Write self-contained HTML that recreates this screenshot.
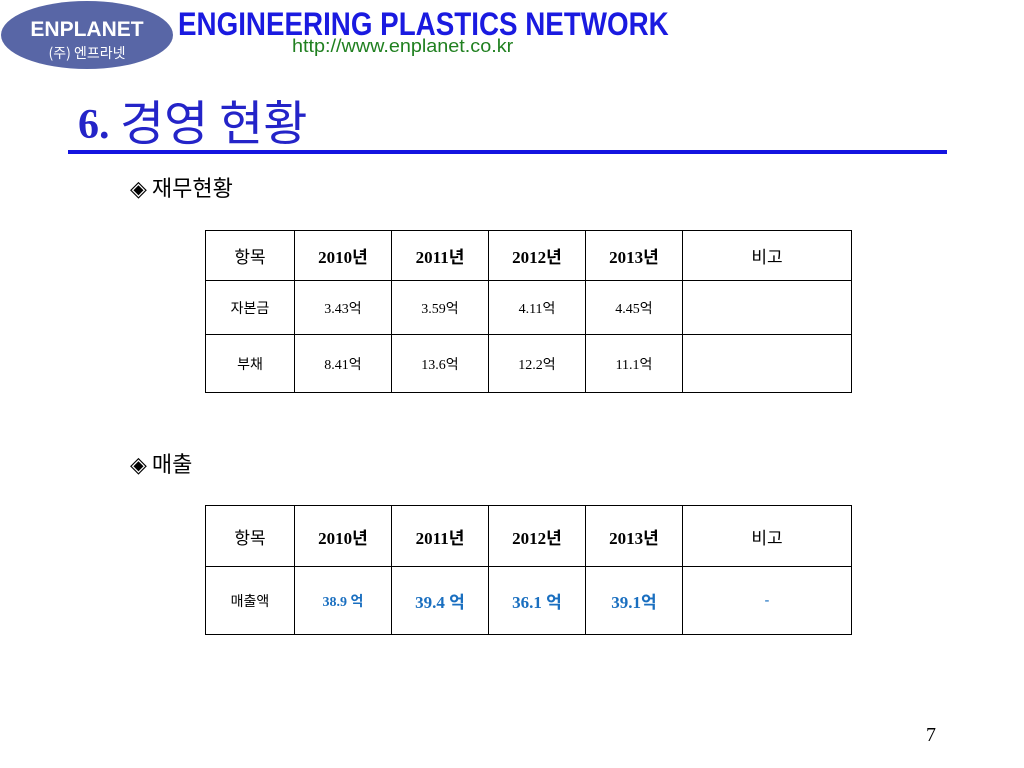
<!DOCTYPE html>
<html><head><meta charset="utf-8"><style>
body{margin:0;width:1024px;height:768px;background:#fff;position:relative;overflow:hidden;font-family:"Liberation Serif","Noto Sans CJK KR",serif}
.a{position:absolute}
table{position:absolute;border-collapse:collapse;table-layout:fixed}
td{border:1.5px solid #000;text-align:center;padding:0;font-size:14px}
.h td{font-size:17px;font-weight:bold}
.k{font-family:"Liberation Sans","Noto Sans CJK KR",sans-serif;font-weight:normal!important}
.bl{color:#1a6fc0;font-weight:bold;font-size:17px}
</style></head><body>
<svg class="a" style="left:0;top:0" width="180" height="72">
<ellipse cx="87" cy="35" rx="86" ry="34" fill="#5866a6"/>
<text x="87" y="36" font-family="Liberation Sans,sans-serif" font-weight="bold" font-size="21" fill="#fff" text-anchor="middle">ENPLANET</text>
<text x="87" y="58" font-family="Noto Sans CJK KR,sans-serif" font-size="14" fill="#fff" text-anchor="middle">(주) 엔프라넷</text>
</svg>
<div class="a" style="left:178px;top:6px;font-family:'Liberation Sans',sans-serif;font-weight:bold;font-size:32px;color:#1a1ae0;transform:scaleX(0.868);transform-origin:left;white-space:nowrap">ENGINEERING PLASTICS NETWORK</div>
<div class="a" style="left:292px;top:36px;font-family:'Liberation Sans',sans-serif;font-size:18px;color:#208020;white-space:nowrap;transform:scaleX(1.1);transform-origin:left">http://www.enplanet.co.kr</div>
<div class="a" style="left:78px;top:97px;font-size:42px;font-weight:bold;color:#2424c8;white-space:nowrap;line-height:56px">6. <span style="font-family:'Noto Sans CJK KR',sans-serif;font-weight:normal;font-size:48px;vertical-align:top;position:relative;top:-6px">경영 현황</span></div>
<div class="a" style="left:68px;top:150px;width:879px;height:4px;background:#1414e0"></div>
<div class="a" style="left:130px;top:171px;font-size:22px;font-family:'Noto Sans CJK KR',sans-serif">◈ 재무현황</div>
<table style="left:205px;top:230px;width:646px">
<colgroup><col style="width:89px"><col style="width:97px"><col style="width:97px"><col style="width:97px"><col style="width:97px"><col style="width:169px"></colgroup>
<tr class="h" style="height:50px"><td class="k">항목</td><td>2010년</td><td>2011년</td><td>2012년</td><td>2013년</td><td class="k">비고</td></tr>
<tr style="height:54px"><td class="k">자본금</td><td>3.43억</td><td>3.59억</td><td>4.11억</td><td>4.45억</td><td></td></tr>
<tr style="height:58px"><td class="k">부채</td><td>8.41억</td><td>13.6억</td><td>12.2억</td><td>11.1억</td><td></td></tr>
</table>
<div class="a" style="left:130px;top:447px;font-size:22px;font-family:'Noto Sans CJK KR',sans-serif">◈ 매출</div>
<table style="left:205px;top:505px;width:646px">
<colgroup><col style="width:89px"><col style="width:97px"><col style="width:97px"><col style="width:97px"><col style="width:97px"><col style="width:169px"></colgroup>
<tr class="h" style="height:61px"><td class="k">항목</td><td>2010년</td><td>2011년</td><td>2012년</td><td>2013년</td><td class="k">비고</td></tr>
<tr style="height:68px"><td class="k">매출액</td><td class="bl" style="font-size:14px">38.9 억</td><td class="bl">39.4 억</td><td class="bl">36.1 억</td><td class="bl">39.1억</td><td class="bl" style="font-size:14px">-</td></tr>
</table>
<div class="a" style="left:926px;top:724px;font-size:20px">7</div>
</body></html>
